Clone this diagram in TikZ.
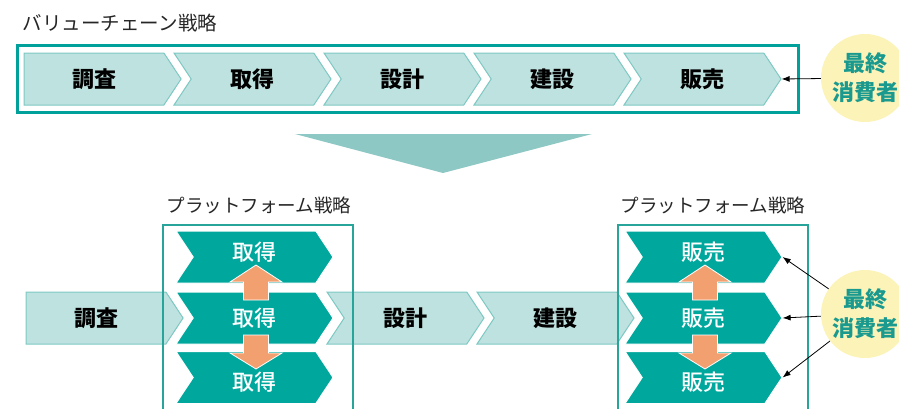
\documentclass[tikz,border=0pt]{standalone}
\usepackage{fontspec}
\setmainfont{Noto Sans CJK JP}
\newfontfamily\jpmedium{Noto Sans CJK JP Medium}
\usetikzlibrary{shapes.symbols,arrows.meta}
\definecolor{vcframe}{RGB}{0,161,154}
\definecolor{vclight}{RGB}{190,226,223}
\definecolor{vcline}{RGB}{125,200,195}
\definecolor{pfdark}{RGB}{0,167,157}
\definecolor{pfbox}{RGB}{40,165,155}
\definecolor{tricol}{RGB}{141,200,196}
\definecolor{uparrcol}{RGB}{243,160,112}
\definecolor{cyellow}{RGB}{252,243,184}
\definecolor{cteal}{RGB}{26,154,143}
\begin{document}
\begin{tikzpicture}[x=1pt,y=-1pt,
    chev/.style={signal, signal to=east, signal from=west, signal pointer angle=113,
      minimum width=157pt, minimum height=52pt, inner sep=0pt},
    chevlight/.style={chev, fill=vclight, draw=vcline, line width=1pt,
      font=\fontsize{22}{24}\selectfont\bfseries},
    chevdark/.style={chev, fill=pfdark, draw=white, line width=1pt, text=white,
      font=\fontsize{22}{24}\jpmedium},
    textup/.style={text height=19.4pt, text depth=12.6pt},
    textdown/.style={text height=29.4pt, text depth=2.6pt},
    textmid/.style={},
    heading/.style={text=black!85, font=\fontsize{19.5}{22}\selectfont},
    consumer/.style={circle, fill=cyellow, minimum size=88pt, inner sep=0pt, align=center,
      text=cteal, font=\fontsize{22}{29}\selectfont\bfseries},
    toarrow/.style={-{Latex[length=8pt,width=6pt]}, line width=0.8pt},
    pfarrow/.style={fill=uparrcol, draw=white, line width=0.8pt}]
    \useasboundingbox (0,0) rectangle (899,408);
    % value chain
    \node[heading] (vctitle) at (120,23) {バリューチェーン戦略};
    \draw[vcframe, line width=3pt] (17,45) rectangle (798,112);
    \node[chevlight, signal from=nowhere] (v1) at (94,79) {調査};
    \foreach \t/\i in {取得/2,設計/3,建設/4,販売/5}
        \node[chevlight] (v\i) at ({24+150*(\i-1)+78.5},79) {\t};
    \node[consumer] (ctop) at (865,78) {最終\\消費者};
    \draw[toarrow] (ctop) -- (v5.east);
    \fill[tricol] (295,134) -- (592,134) -- (443,173) -- cycle;
    % platform strategy
    \node[chevlight, signal from=nowhere] (b1) at (96,318) {調査};
    \node[chevlight] (b3) at (405.5,318) {設計};
    \node[chevlight] (b4) at (555.5,318) {建設};
    \node[heading, font=\fontsize{18.5}{22}\selectfont] (pt1) at (259,205) {プラットフォーム戦略};
    \node[heading, font=\fontsize{18.5}{22}\selectfont] (pt2) at (713,205) {プラットフォーム戦略};
    \draw[pfbox, line width=1.5pt] (163,225) rectangle (353,420);
    \draw[pfbox, line width=1.5pt] (618,225) rectangle (808,420);
    \foreach \j/\y/\s in {1/257/textup,2/318/textmid,3/377.5/textdown} {
        \node[chevdark, \s] (a\j) at (254.5,\y) {取得};
        \node[chevdark, \s] (s\j) at (703.5,\y) {販売};
    }
    \foreach \cx in {256,705} {
        \filldraw[pfarrow] (\cx-12.5,300) -- (\cx-12.5,282) -- (\cx-26,282) -- (\cx,265)
            -- (\cx+26,282) -- (\cx+12.5,282) -- (\cx+12.5,300) -- cycle;
        \filldraw[pfarrow] (\cx-12.5,335) -- (\cx-12.5,353) -- (\cx-26,353) -- (\cx,369)
            -- (\cx+26,353) -- (\cx+12.5,353) -- (\cx+12.5,335) -- cycle;
    }
    \node[consumer] (cbot) at (865,314) {最終\\消費者};
    \foreach \j in {1,2,3}
        \draw[toarrow] (cbot) -- (s\j.east);
\end{tikzpicture}
\end{document}
